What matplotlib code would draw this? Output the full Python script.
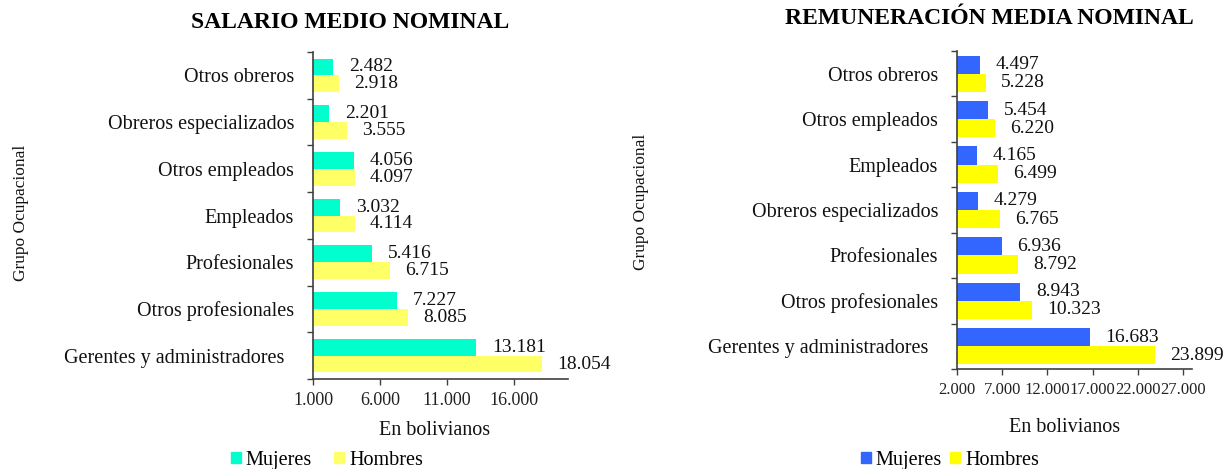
import matplotlib
matplotlib.use("Agg")
import matplotlib.pyplot as plt
import numpy as np
from matplotlib.patches import Patch
from matplotlib.ticker import FuncFormatter, FixedLocator

plt.rcParams["font.family"] = ["Liberation Serif", "DejaVu Serif"]

# ── Data ─────────────────────────────────────────────────────────────────────
sal_cats = ["Otros obreros", "Obreros especializados", "Otros empleados",
            "Empleados", "Profesionales", "Otros profesionales",
            "Gerentes y administradores  "]
sal_mujeres = [2482, 2201, 4056, 3032, 5416, 7227, 13181]
sal_hombres = [2918, 3555, 4097, 4114, 6715, 8085, 18054]
sal_ticks = [1000, 6000, 11000, 16000]

rem_cats = ["Otros obreros", "Otros empleados", "Empleados",
            "Obreros especializados", "Profesionales", "Otros profesionales",
            "Gerentes y administradores  "]
rem_mujeres = [4497, 5454, 4165, 4279, 6936, 8943, 16683]
rem_hombres = [5228, 6220, 6499, 6765, 8792, 10323, 23899]
rem_ticks = [2000, 7000, 12000, 17000, 22000, 27000]

AXIS_COL = "#404040"


def miles(v, pos=None):
    return f"{int(v):,}".replace(",", ".")


def panel(ax, cats, muj, hom, ticks, xlim, c_muj, c_hom, h, tick_fs):
    y = np.arange(len(cats))
    ax.barh(y - h / 2, muj, height=h, color=c_muj)
    ax.barh(y + h / 2, hom, height=h, color=c_hom)
    for yy, v in zip(y - h / 2, muj):
        ax.annotate(miles(v), xy=(v, yy), xytext=(16, 0),
                    textcoords="offset pixels", va="center", ha="left",
                    fontsize=14, color="#111111")
    for yy, v in zip(y + h / 2, hom):
        ax.annotate(miles(v), xy=(v, yy), xytext=(15, 0),
                    textcoords="offset pixels", va="center", ha="left",
                    fontsize=14, color="#111111", annotation_clip=False)
    ax.set_xlim(*xlim)
    ax.set_ylim(len(cats) - 0.5, -0.5)
    ax.set_yticks(y)
    ax.set_yticklabels(cats, fontsize=14.5, color="#111111")
    ax.yaxis.set_minor_locator(FixedLocator(np.arange(len(cats) + 1) - 0.5))
    ax.tick_params(axis="y", which="major", length=0, pad=13.5)
    ax.tick_params(axis="y", which="minor", length=4, width=1, color=AXIS_COL)
    ax.set_xticks(ticks)
    ax.xaxis.set_major_formatter(FuncFormatter(miles))
    ax.tick_params(axis="x", length=4, width=1, color=AXIS_COL, pad=5,
                   labelsize=tick_fs, labelcolor="#222222")
    for s in ["top", "right"]:
        ax.spines[s].set_visible(False)
    for s in ["left", "bottom"]:
        ax.spines[s].set_color(AXIS_COL)
        ax.spines[s].set_linewidth(1.2)


fig = plt.figure(figsize=(12.25, 4.69), dpi=100)

# ── Left: salario medio nominal ──────────────────────────────────────────────
ax1 = fig.add_axes([313 / 1225, 1 - 379 / 469, 255 / 1225, 327 / 469])
panel(ax1, sal_cats, sal_mujeres, sal_hombres, sal_ticks, (1000, 20000),
      "#00FFCC", "#FFFF66", 0.36, 13)
fig.text(350 / 1225, 1 - 23 / 469, "SALARIO MEDIO NOMINAL", ha="center",
         va="center", fontsize=17, fontweight="bold")
fig.text(21 / 1225, 1 - 213 / 469, "Grupo Ocupacional", rotation=90,
         ha="center", va="center", fontsize=12.5, color="#111111")
fig.text(435 / 1225, 1 - 430 / 469, "En bolivianos", ha="center",
         va="center", fontsize=14.5, color="#111111")
fig.legend(handles=[Patch(color="#00FFCC", label="Mujeres"),
                    Patch(color="#FFFF66", label="Hombres")],
           loc="center", bbox_to_anchor=(327 / 1225, 1 - 460 / 469), ncol=2,
           frameon=False, fontsize=14.5, handlelength=0.5, handleheight=0.5,
           handletextpad=0.25, columnspacing=1.1, borderpad=0)

# ── Right: remuneración media nominal ────────────────────────────────────────
ax2 = fig.add_axes([957 / 1225, 1 - 369 / 469, 235 / 1225, 318 / 469])
panel(ax2, rem_cats, rem_mujeres, rem_hombres, rem_ticks, (2000, 28000),
      "#3366FF", "#FFFF00", 0.4, 12)
fig.text(989 / 1225, 1 - 19 / 469, "REMUNERACIÓN MEDIA NOMINAL", ha="center",
         va="center", fontsize=17, fontweight="bold")
fig.text(641 / 1225, 1 - 202 / 469, "Grupo Ocupacional", rotation=90,
         ha="center", va="center", fontsize=12.5, color="#111111")
fig.text(1065 / 1225, 1 - 427 / 469, "En bolivianos", ha="center",
         va="center", fontsize=14.5, color="#111111")
fig.legend(handles=[Patch(color="#3366FF", label="Mujeres"),
                    Patch(color="#FFFF00", label="Hombres")],
           loc="center", bbox_to_anchor=(950 / 1225, 1 - 460 / 469), ncol=2,
           frameon=False, fontsize=14.5, handlelength=0.5, handleheight=0.5,
           handletextpad=0.25, columnspacing=0.4, borderpad=0)

fig.savefig("out.png", dpi=100)
